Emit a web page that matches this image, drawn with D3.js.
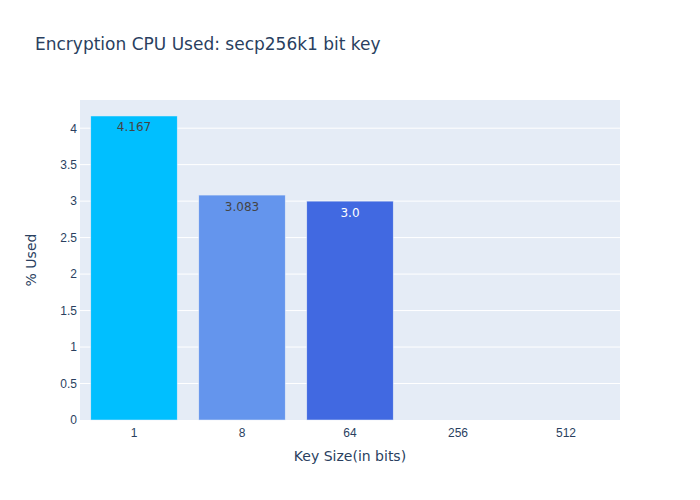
<!DOCTYPE html>
<html><head><meta charset="utf-8">
<script src="https://cdn.jsdelivr.net/npm/d3@7"></script>
<style>body{margin:0;background:#fff}svg{font-family:"DejaVu Sans",verdana,arial,sans-serif}</style>
</head><body>
<svg id="c" width="700" height="500"></svg>
<script>
const categories = ["1", "8", "64", "256", "512"];
const values = [4.167, 3.083, 3.0, 0, 0];
const labels = ["4.167", "3.083", "3.0", "", ""];
const colors = ["#00BFFF", "#6495ED", "#4169E1", "#1E90FF", "#4682B4"];
const labelColors = ["#444", "#444", "#fff", "#444", "#444"];
const yTicks = [0, 0.5, 1, 1.5, 2, 2.5, 3, 3.5, 4];
const yTickLabels = ["0", "0.5", "1", "1.5", "2", "2.5", "3", "3.5", "4"];

const svg = d3.select("#c");
const m = {l: 80, r: 80, t: 100, b: 80};
const W = 700, H = 500;
const pw = W - m.l - m.r, ph = H - m.t - m.b;
const txt = "#2a3f5f";

const x = d3.scaleBand().domain(categories).range([m.l, m.l + pw]).paddingInner(0.2).paddingOuter(0.1);
const y = d3.scaleLinear().domain([0, 4.167 * 1.0526]).range([m.t + ph, m.t]);

svg.append("rect").attr("x", m.l).attr("y", m.t).attr("width", pw).attr("height", ph).attr("fill", "#E5ECF6");

// grid
svg.append("g").selectAll("line").data(yTicks.filter(d => d > 0)).join("line")
  .attr("x1", m.l).attr("x2", m.l + pw)
  .attr("y1", d => y(d)).attr("y2", d => y(d))
  .attr("stroke", "#fff").attr("stroke-width", 1);

// bars
svg.append("g").selectAll("rect").data(values).join("rect")
  .attr("x", (d, i) => x(categories[i]))
  .attr("width", x.bandwidth())
  .attr("y", d => y(d))
  .attr("height", d => y(0) - y(d))
  .attr("fill", (d, i) => colors[i])
  .attr("stroke", "#E5ECF6").attr("stroke-width", 0.5);

// bar labels
svg.append("g").selectAll("text").data(values).join("text")
  .attr("x", (d, i) => x(categories[i]) + x.bandwidth() / 2)
  .attr("y", d => y(d) + 15.5)
  .attr("text-anchor", "middle")
  .attr("font-size", 12)
  .attr("fill", (d, i) => labelColors[i])
  .text((d, i) => labels[i]);

// y axis
const ya = d3.axisLeft(y).tickValues(yTicks).tickFormat((d, i) => yTickLabels[i]).tickSize(0).tickPadding(3);
const yg = svg.append("g").attr("transform", `translate(${m.l},0)`).call(ya);
yg.select(".domain").remove();
yg.selectAll("text").attr("font-size", 12).attr("fill", txt).attr("font-family", null);

// x axis
const xa = d3.axisBottom(x).tickSize(0).tickPadding(8);
const xg = svg.append("g").attr("transform", `translate(0,${m.t + ph})`).call(xa);
xg.select(".domain").remove();
xg.selectAll("text").attr("font-size", 12).attr("fill", txt).attr("font-family", null);

// titles
svg.append("text").attr("x", 35).attr("y", 50).attr("font-size", 17).attr("fill", txt)
  .text("Encryption CPU Used: secp256k1 bit key");
svg.append("text").attr("x", m.l + pw / 2).attr("y", 461).attr("text-anchor", "middle")
  .attr("font-size", 14).attr("fill", txt).text("Key Size(in bits)");
svg.append("text").attr("transform", `translate(36,${m.t + ph / 2}) rotate(-90)`)
  .attr("text-anchor", "middle").attr("font-size", 14).attr("fill", txt).text("% Used");
</script>
</body></html>
